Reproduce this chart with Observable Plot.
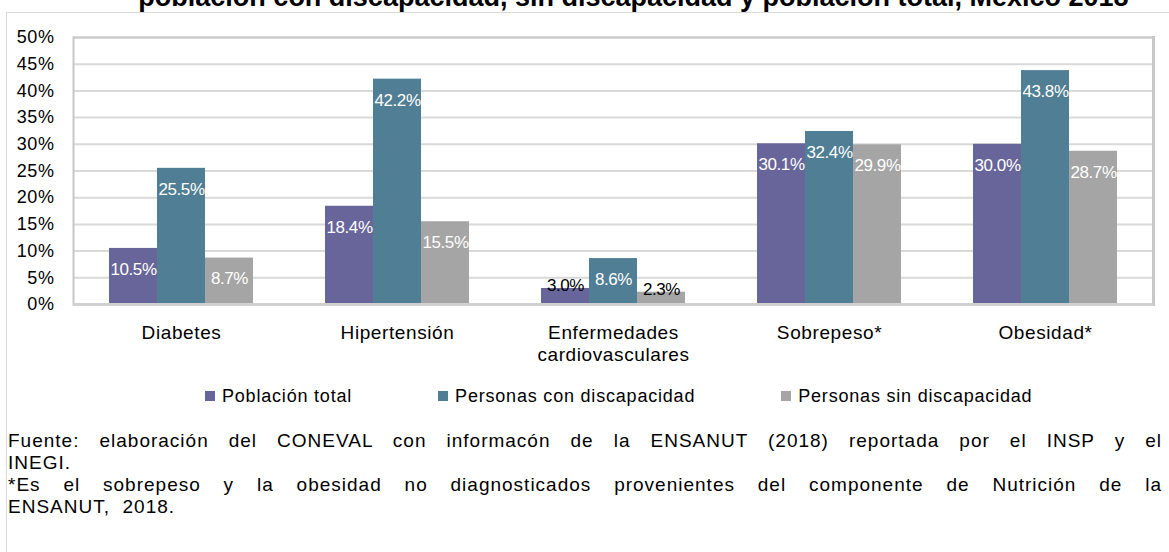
<!DOCTYPE html>
<html><head><meta charset="utf-8">
<script src="https://cdn.jsdelivr.net/npm/d3@7"></script>
<script src="https://cdn.jsdelivr.net/npm/@observablehq/plot@0.6"></script>
<style>
body{margin:0;background:#fff;width:1169px;height:552px;overflow:hidden;position:relative;font-family:"Liberation Sans",Arial,sans-serif;color:#000}
#frame{position:absolute;left:6px;top:12px;width:1300px;height:700px;border:1px solid #d9d9d9;box-sizing:border-box}
#title{position:absolute;left:49px;top:-18px;width:1169px;text-align:center;font-weight:bold;font-size:27px;line-height:30px;white-space:nowrap}
#chart{position:absolute;left:0;top:0}
#chart svg text{letter-spacing:0.6px}
#chart svg g.lbl text{letter-spacing:-0.4px}
#legend{position:absolute;left:205px;top:385px;display:flex;gap:86px;font-size:18px;letter-spacing:0.8px;line-height:22px}
.item{display:flex;align-items:center}
.sw{width:10px;height:10px;margin-right:7px}
#notes{position:absolute;left:8px;top:430px;width:1154px;font-size:19px;line-height:22px;letter-spacing:1px}
.j{text-align:justify;text-align-last:justify}
</style></head><body>
<div id="frame"></div>
<div id="title">población con discapacidad, sin discapacidad y población total, México 2018</div>
<div id="chart"></div>
<div id="legend"></div>
<div id="notes">
<div class="j">Fuente: elaboración del CONEVAL con informacón de la ENSANUT (2018) reportada por el INSP y el</div>
<div>INEGI.</div>
<div class="j">*Es el sobrepeso y la obesidad no diagnosticados provenientes del componente de Nutrición de la</div>
<div>ENSANUT,&nbsp; 2018.</div>
</div>
<script>
const categories = ["Diabetes","Hipertensión","Enfermedades cardiovasculares","Sobrepeso*","Obesidad*"];
const categoryLabels = ["Diabetes","Hipertensión","Enfermedades\ncardiovasculares","Sobrepeso*","Obesidad*"];
const series = ["Población total","Personas con discapacidad","Personas sin discapacidad"];
const poblacionTotal = [10.5,18.4,3.0,30.1,30.0];
const conDiscapacidad = [25.5,42.2,8.6,32.4,43.8];
const sinDiscapacidad = [8.7,15.5,2.3,29.9,28.7];
const colors = ["#676599","#507e94","#a5a5a5"];
const yTicks = [0,5,10,15,20,25,30,35,40,45,50];

const data = categories.flatMap((c,i)=>[poblacionTotal[i],conDiscapacidad[i],sinDiscapacidad[i]]
  .map((v,j)=>({category:c, series:series[j], value:v})));
const fmt = d => d.toFixed(1) + "%";
const labelFont = "Liberation Sans, Arial, sans-serif";

const chart = Plot.plot({
  width:1169, height:372,
  marginTop:37, marginLeft:71, marginRight:14, marginBottom:68,
  style:{fontFamily:"Liberation Sans, Arial, sans-serif", fontSize:"18px", color:"#000", background:"transparent", overflow:"visible"},
  fx:{domain:categories, paddingInner:0, paddingOuter:0, label:null, axis:null},
  x:{domain:series, paddingInner:0, paddingOuter:0.745, axis:null},
  y:{domain:[0,50], axis:null},
  color:{domain:series, range:colors},
  marks:[
    Plot.gridY(yTicks, {stroke:"#d9d9d9", strokeOpacity:1, strokeWidth:2}),
    Plot.ruleY([50], {stroke:"#c8c8c8", strokeWidth:2}),
    Plot.frame({anchor:"left", facetAnchor:"left", stroke:"#c8c8c8", strokeWidth:2}),
    Plot.frame({anchor:"right", facetAnchor:"right", stroke:"#c8c8c8", strokeWidth:3}),
    Plot.barY(data, {fx:"category", x:"series", y:"value", fill:"series"}),
    Plot.ruleY([0], {stroke:"#d0d0d0", strokeWidth:3}),
    Plot.text(data.filter(d=>d.value>=5), {fx:"category", x:"series", y:"value", text:d=>fmt(d.value), dy:21, fill:"white", fontFamily:labelFont, fontSize:17, className:"lbl"}),
    Plot.text(data.filter(d=>d.value<5), {fx:"category", x:"series", y:"value", text:d=>fmt(d.value), lineAnchor:"bottom", dy:3, fill:"black", fontFamily:labelFont, fontSize:17, className:"lbl"}),
    Plot.axisY({ticks:yTicks, tickFormat:d=>d+"%", tickSize:0, tickPadding:19, label:null, fontSize:18}),
    Plot.axisFx({anchor:"bottom", tickSize:0, tickPadding:19, label:null, tickFormat:c=>categoryLabels[categories.indexOf(c)], fontSize:19, lineHeight:1.15})
  ]
});
document.getElementById("chart").appendChild(chart);

const legend = document.getElementById("legend");
series.forEach((s,i)=>{
  const it = document.createElement("div"); it.className="item";
  const sw = document.createElement("span"); sw.className="sw"; sw.style.background=colors[i];
  const t = document.createElement("span"); t.textContent=s;
  it.appendChild(sw); it.appendChild(t); legend.appendChild(it);
});
</script>
</body></html>
